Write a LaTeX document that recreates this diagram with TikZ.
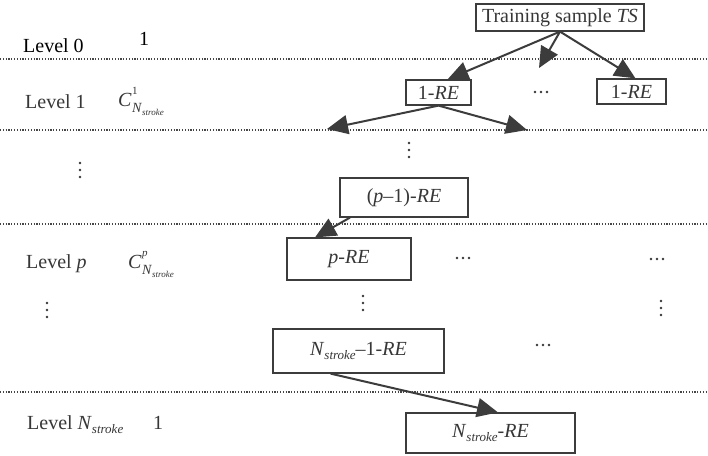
\documentclass[tikz,border=0pt]{standalone}
\usepackage{fontspec}
\setmainfont{Liberation Serif}
\usetikzlibrary{arrows.meta}
\definecolor{txt}{RGB}{55,55,55}
\definecolor{edge}{RGB}{60,60,60}
\definecolor{dotc}{RGB}{70,70,70}
\newcommand{\stk}{\raisebox{-0.22em}{\fontsize{13}{13}\selectfont\textit{stroke}}}
\newcommand{\Cmb}[1]{\textit{C}\kern0.5pt\rlap{\raisebox{0.6em}{\fontsize{11}{11}\selectfont #1}}\raisebox{-0.3em}{\fontsize{14}{14}\selectfont\textit{N}\raisebox{-0.28em}{\fontsize{9}{9}\selectfont\textit{stroke}}}}
\begin{document}
\begin{tikzpicture}[x=1pt,y=-1pt,font=\fontsize{20}{24}\selectfont,text=txt,
  rebox/.style={draw=edge,line width=1.2pt,inner sep=0pt,text=txt},
  lvl/.style={anchor=base west,inner sep=0pt},
  dotline/.style={line width=1.3pt,draw=dotc,dash pattern=on 1.2pt off 1.6pt},
  arr/.style={-{Triangle[length=21pt,width=19pt]},line width=2pt,draw=edge}]
\useasboundingbox (0,0) rectangle (708,455);
\fill[white] (0,0) rectangle (708,455);
% level separators
\foreach \y in {59,130,224,392} \draw[dotline] (0,\y) -- (708,\y);
% left labels
\node[lvl,text=black] (lv0) at (23,52) {Level 0};
\node[lvl,text=black] (n0) at (139,45) {1};
\node[lvl] (lv1) at (25,108) {Level 1};
\node[lvl] (c1) at (118,106) {\Cmb{1}};
\node[lvl] (lvp) at (26,268) {Level \textit{p}};
\node[lvl] (cp) at (128,268) {\Cmb{\textit{p}}};
\node[lvl] (lvn) at (27,429) {Level \textit{N}\stk};
\node[lvl] (nn) at (153,429) {1};
% boxes
\node[rebox,minimum width=168pt,minimum height=27pt] (TS) at (560,17.5) {Training sample \textit{TS}};
\node[rebox,minimum width=65pt,minimum height=25pt] (L1a) at (438.5,92.5) {1-\textit{RE}};
\node[rebox,minimum width=69pt,minimum height=25pt] (L1b) at (631.5,91.5) {1-\textit{RE}};
\node[rebox,minimum width=128pt,minimum height=39pt] (pm1) at (404,197.5) {(\textit{p}\textendash1)-\textit{RE}};
\node[rebox,minimum width=124pt,minimum height=42pt] (p) at (349,259) {\textit{p}-\textit{RE}};
\node[rebox,minimum width=171pt,minimum height=44pt] (n1) at (358.5,351) {\textit{N}\stk\textendash1-\textit{RE}};
\node[rebox,minimum width=169pt,minimum height=40pt] (n) at (490.5,433) {\textit{N}\stk-\textit{RE}};
% free arrow ends
\coordinate (m0) at (539,68);
\coordinate (l1) at (327,129);
\coordinate (r1) at (527,130);
% arrows
\draw[arr] (TS.south) -- ([xshift=9pt]L1a.north);
\draw[arr] (TS.south) -- (m0);
\draw[arr] (TS.south) -- ([xshift=4pt]L1b.north);
\draw[arr] (L1a.south) -- (l1);
\draw[arr] (L1a.south) -- (r1);
\draw[arr] ([xshift=-54pt]pm1.south) -- ([xshift=-34pt]p.north);
\draw[arr] ([xshift=-28pt]n1.south) -- ([xshift=7.5pt]n.north);
% ellipses
\foreach \x/\y in {409/150,80/170,363/303,661/308,47/310}
  \foreach \d in {-7,0,7} \fill[txt] (\x,\y+\d) circle (1.4pt);
\foreach \x/\y in {541/92,463/258,657/259,543/345}
  \foreach \d in {-6,0,6} \fill[txt] (\x+\d,\y) circle (1.3pt);
\end{tikzpicture}
\end{document}
